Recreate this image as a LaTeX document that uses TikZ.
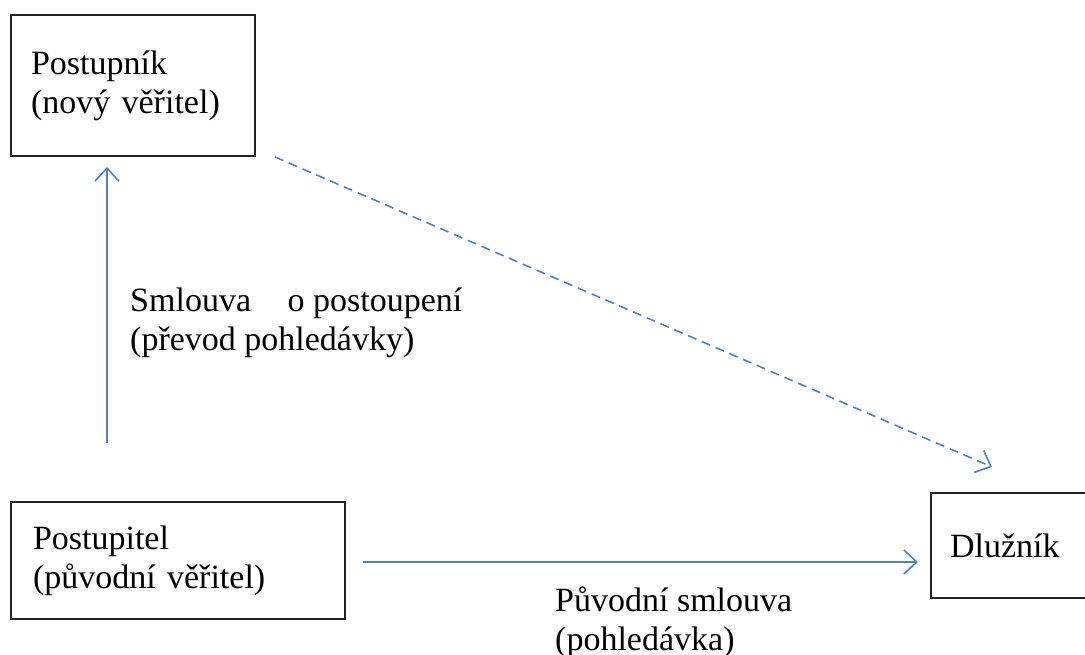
\documentclass[tikz,border=0pt]{standalone}
\usepackage{fontspec}
\setmainfont{Liberation Serif}
\usetikzlibrary{arrows.meta}
\definecolor{lineblue}{HTML}{4F81BD}
\definecolor{boxline}{HTML}{222222}
\tikzset{
  box/.style={draw=boxline, line width=2pt, rectangle, align=left, anchor=north west,
    font=\fontsize{34}{39}\selectfont},
  lbl/.style={align=left, anchor=north west, inner sep=0pt, font=\fontsize{34}{39}\selectfont},
  conn/.style={draw=lineblue, line width=1.6pt,
    -{Straight Barb[length=13pt,width=24pt,line width=1.6pt]}},
  dashconn/.style={conn, dash pattern=on 9pt off 6pt}
}
\begin{document}
\begin{tikzpicture}[x=1pt,y=-1pt]
\useasboundingbox (0,0) rectangle (1085,655);
% boxes
\node[box, minimum width=244pt, minimum height=141pt, text width=204pt, inner xsep=20pt, inner ysep=0pt]
  (postupnik) at (10,14) {Postupník\\(nový věřitel)};
\node[box, minimum width=334pt, minimum height=117pt, text width=290pt, inner xsep=22pt, inner ysep=0pt]
  (postupitel) at (10,501) {Postupitel\\(původní věřitel)};
\node[box, minimum width=170pt, minimum height=105pt, text width=132pt, inner xsep=19pt, inner ysep=0pt]
  (dluznik) at (930,492) {Dlužník};
% connector end points
\coordinate (vA) at (107,443);
\coordinate (vB) at (107,167);
\coordinate (hA) at (363,562);
\coordinate (hB) at (918,562);
\coordinate (dA) at (275,157);
\coordinate (dB) at (992,467);
\draw[conn] (vA) -- (vB);
\draw[conn] (hA) -- (hB);
\draw[dashconn] (dA) -- (dB);
% labels
\node[lbl] (smlouva) at (130,288) {Smlouva\hspace{28pt} o postoupení\\(převod pohledávky)};
\node[lbl] (puvodni) at (555,587) {Původní smlouva\\(pohledávka)};
\end{tikzpicture}
\end{document}
